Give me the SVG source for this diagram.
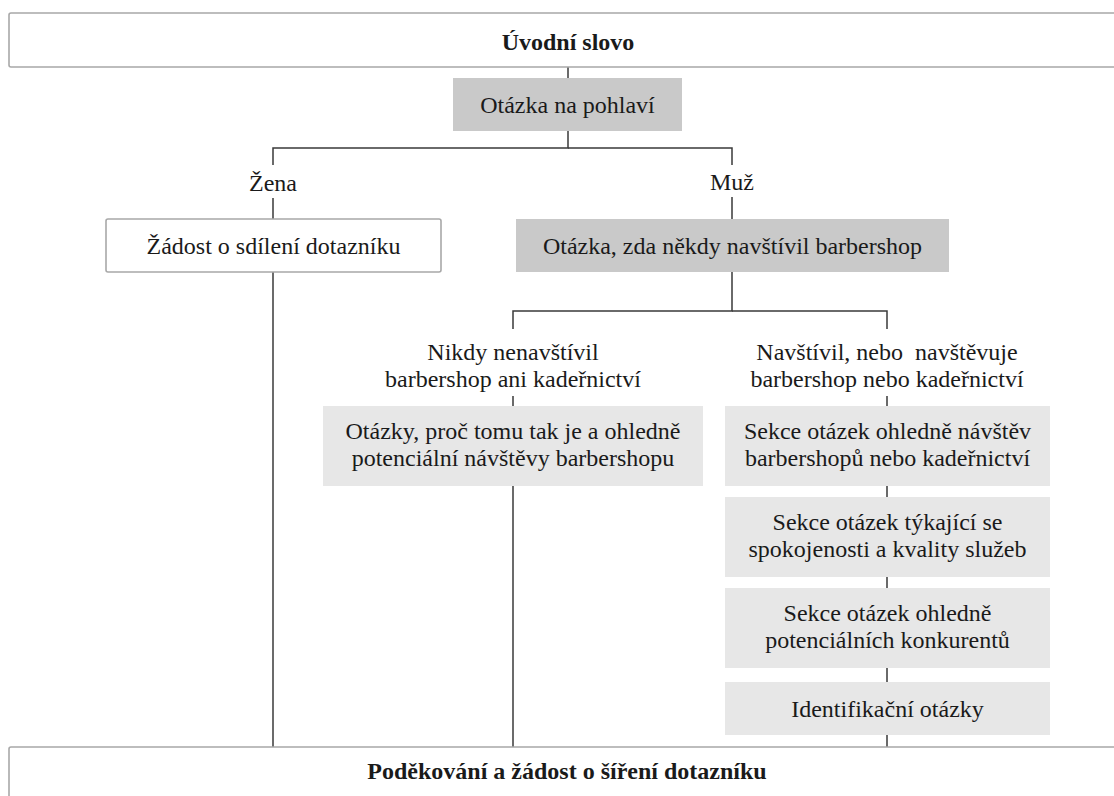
<svg xmlns="http://www.w3.org/2000/svg" width="1114" height="796" viewBox="0 0 1114 796">
<style>
text { font-family: "Liberation Serif", "Times New Roman", serif; font-size: 24px; fill: #1a1a1a; text-anchor: middle; }
.b { font-weight: bold; }
.frame { fill: #ffffff; stroke: #a8a8a8; stroke-width: 1.6; }
.dark { fill: #c9c9c9; }
.light { fill: #e7e7e7; }
.conn { stroke: #3a3a3a; stroke-width: 1.5; fill: none; }
</style>
<rect width="1114" height="796" fill="#ffffff"/>
<g id="connectors">
<path class="conn" d="M568 67V78"/>
<path class="conn" d="M568 131V148H273V165M273 198V219"/>
<path class="conn" d="M568 148H732V165M732 197V219"/>
<path class="conn" d="M273 272V747"/>
<path class="conn" d="M732 272V311H513V329M513 396V406"/>
<path class="conn" d="M732 311H887V329M887 396V406"/>
<path class="conn" d="M513 486V747"/>
<path class="conn" d="M887 486V497M887 577V588M887 668V682M887 735V747"/>
</g>
<g id="intro">
<rect class="frame" x="9" y="13" width="1120" height="54" rx="2"/>
<text class="b" x="568" y="50">Úvodní slovo</text>
</g>
<g id="gender">
<rect class="dark" x="453" y="78" width="229" height="53"/>
<text x="567.5" y="112.5">Otázka na pohlaví</text>
</g>
<g id="label-zena">
<text x="273" y="191">Žena</text>
</g>
<g id="label-muz">
<text x="732" y="190">Muž</text>
</g>
<g id="share-request">
<rect class="frame" x="106" y="219" width="335" height="53" rx="2"/>
<text x="273.5" y="254">Žádost o sdílení dotazníku</text>
</g>
<g id="visited-question">
<rect class="dark" x="516" y="219" width="433" height="53"/>
<text x="732.5" y="254">Otázka, zda někdy navštívil barbershop</text>
</g>
<g id="label-never">
<text x="513" y="360">Nikdy nenavštívil</text>
<text x="513" y="387">barbershop ani kadeřnictví</text>
</g>
<g id="label-visited">
<text x="887" y="360">Navštívil, nebo&#160; navštěvuje</text>
<text x="887" y="387">barbershop nebo kadeřnictví</text>
</g>
<g id="why-not">
<rect class="light" x="323" y="406" width="380" height="80"/>
<text x="513" y="439">Otázky, proč tomu tak je a ohledně</text>
<text x="513" y="466">potenciální návštěvy barbershopu</text>
</g>
<g id="visits-section">
<rect class="light" x="725" y="406" width="325" height="80"/>
<text x="887.5" y="439">Sekce otázek ohledně návštěv</text>
<text x="887.5" y="466">barbershopů nebo kadeřnictví</text>
</g>
<g id="satisfaction-section">
<rect class="light" x="725" y="497" width="325" height="80"/>
<text x="887.5" y="530">Sekce otázek týkající se</text>
<text x="887.5" y="557">spokojenosti a kvality služeb</text>
</g>
<g id="competitors-section">
<rect class="light" x="725" y="588" width="325" height="80"/>
<text x="887.5" y="621">Sekce otázek ohledně</text>
<text x="887.5" y="648">potenciálních konkurentů</text>
</g>
<g id="identification">
<rect class="light" x="725" y="682" width="325" height="53"/>
<text x="887.5" y="716.5">Identifikační otázky</text>
</g>
<g id="thanks">
<rect class="frame" x="9" y="747" width="1120" height="70" rx="2"/>
<text class="b" x="567" y="779">Poděkování a žádost o šíření dotazníku</text>
</g>
</svg>
